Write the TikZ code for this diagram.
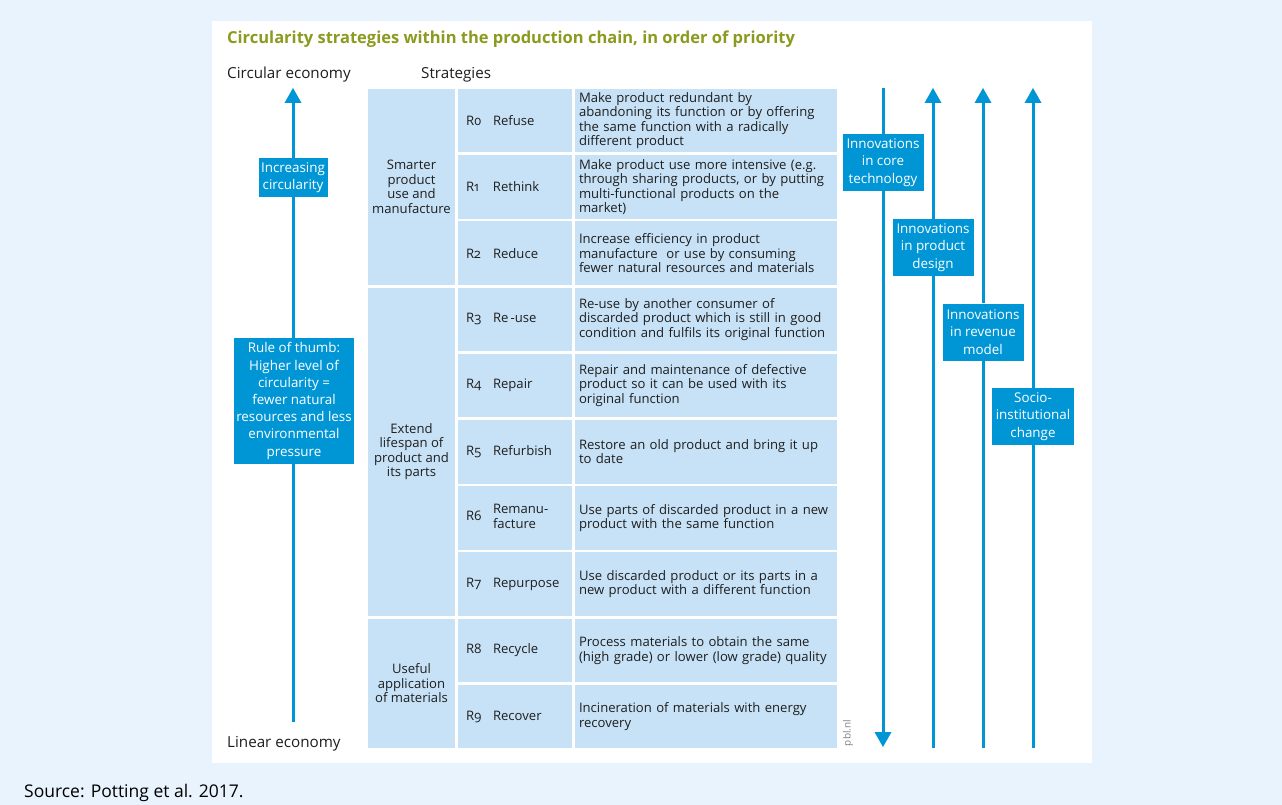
\documentclass[tikz,border=0pt]{standalone}
\usepackage{fontspec}
\setmainfont{Open Sans}[Numbers=OldStyle]
\definecolor{pblblue}{HTML}{0096D6}
\definecolor{cellblue}{HTML}{C7E2F6}
\definecolor{pageblue}{HTML}{E8F3FD}
\definecolor{titlegreen}{HTML}{8C9A1E}
\definecolor{inkgray}{HTML}{1E1E1E}

\begin{document}
\begin{tikzpicture}[x=1pt,y=-1pt]
\tikzstyle{every node}+=[inner sep=0pt, text=inkgray, font=\fontsize{13.1}{14.5}\selectfont]
\tikzstyle{label}=[font=\fontsize{15.2}{17}\selectfont, anchor=base west]
\tikzstyle{catcell}=[fill=cellblue, minimum width=87pt, align=center]
\tikzstyle{rcell}=[fill=cellblue, minimum width=114pt, minimum height=63.5pt, text width=98pt, inner xsep=8pt, align=left]
\tikzstyle{dcell}=[fill=cellblue, minimum width=262pt, minimum height=63.5pt, text width=254pt, inner xsep=4pt, align=left]
\tikzstyle{bluebox}=[fill=pblblue, text=white, align=center, font=\fontsize{13.4}{17.2}\selectfont]
\tikzstyle{innobox}=[bluebox, minimum width=81pt, minimum height=57pt]
\tikzstyle{flow}=[pblblue, line width=3pt]

\useasboundingbox (0,0) rectangle (1282,805);
\fill[pageblue] (0,0) rectangle (1282,805);
\fill[white] (212,21) rectangle (1092,763);

% headings
\node[anchor=base west, text=titlegreen, font=\fontsize{16.5}{19}\selectfont\bfseries] (title) at (227,44)
  {Circularity strategies within the production chain, in order of priority};
\node[label] (circ) at (227,79) {Circular economy};
\node[label] (strat) at (421,79) {Strategies};
\node[label] (lin) at (227,747) {Linear economy};
\node[anchor=base west, text=black, font=\fontsize{17.5}{20}\selectfont\addfontfeature{Numbers=Lining}] (src) at (24,797) {Source: Potting et al. 2017.};

% categories
\node[catcell, minimum height=195.9pt] (smarter) at (411.5,186.95) {Smarter\\product\\use and\\manufacture};
\node[catcell, minimum height=328.3pt] (extend) at (411.5,451.75) {Extend\\lifespan of\\product and\\its parts};
\node[catcell, minimum height=129.7pt] (useful) at (411.5,683.45) {Useful\\application\\of materials};

% strategies
\node[rcell] (r0) at (515,120.75) {\makebox[27pt][l]{R0}Refuse};
\node[rcell] (r1) at (515,186.95) {\makebox[27pt][l]{R1}Rethink};
\node[rcell] (r2) at (515,253.15) {\makebox[27pt][l]{R2}Reduce};
\node[rcell] (r3) at (515,319.35) {\makebox[27pt][l]{R3}Re\,-use};
\node[rcell] (r4) at (515,385.55) {\makebox[27pt][l]{R4}Repair};
\node[rcell] (r5) at (515,451.75) {\makebox[27pt][l]{R5}Refurbish};
\node[rcell] (r6) at (515,517.95) {\makebox[27pt][l]{R6}\begin{tabular}[c]{@{}l@{}}Remanu-\\facture\end{tabular}};
\node[rcell] (r7) at (515,584.15) {\makebox[27pt][l]{R7}Repurpose};
\node[rcell] (r8) at (515,650.35) {\makebox[27pt][l]{R8}Recycle};
\node[rcell] (r9) at (515,716.55) {\makebox[27pt][l]{R9}Recover};

% descriptions
\node[dcell] (d0) at (706,120.75) {Make product redundant by\\abandoning its function or by offering\\the same function with a radically\\different product};
\node[dcell] (d1) at (706,186.95) {Make product use more intensive (e.g.\\through sharing products, or by putting\\multi-functional products on the\\market)};
\node[dcell] (d2) at (706,253.15) {Increase efficiency in product\\manufacture\ \ or use by consuming\\fewer natural resources and materials};
\node[dcell] (d3) at (706,319.35) {Re-use by another consumer of\\discarded product which is still in good\\condition and fulfils its original function};
\node[dcell] (d4) at (706,385.55) {Repair and maintenance of defective\\product so it can be used with its\\original function};
\node[dcell] (d5) at (706,451.75) {Restore an old product and bring it up\\to date};
\node[dcell] (d6) at (706,517.95) {Use parts of discarded product in a new\\product with the same function};
\node[dcell] (d7) at (706,584.15) {Use discarded product or its parts in a\\new product with a different function};
\node[dcell] (d8) at (706,650.35) {Process materials to obtain the same\\(high grade) or lower (low grade) quality};
\node[dcell] (d9) at (706,716.55) {Incineration of materials with energy\\recovery};

\node[rotate=90, text=gray, font=\fontsize{10}{11}\selectfont] (pbl) at (848,733) {pbl.nl};

% left axis
\coordinate (ce) at (293,88);
\coordinate (le) at (293,722);
\node[bluebox, minimum width=69pt, minimum height=39pt] (inc) at (293,177.5) {Increasing\\circularity};
\node[bluebox, minimum width=120pt, minimum height=126pt] (rule) at (294,401) {Rule of thumb:\\Higher level of\\circularity =\\fewer natural\\resources and less\\environmental\\pressure};
\draw[flow, shorten >=8pt] (inc.north) -- (ce);
\draw[flow] (inc.south |- rule.north) -- (inc.south);
\draw[flow] (le) -- (le |- rule.south);
\fill[pblblue] (ce) -- ++(-8.5,15) -- ++(17,0) -- cycle;

% innovation arrows
\coordinate (core-top) at (883,88);
\coordinate (core-tip) at (883,747);
\coordinate (design-tip) at (933,88);
\coordinate (design-bot) at (933,748);
\coordinate (rev-tip) at (983,88);
\coordinate (rev-bot) at (983,748);
\coordinate (socio-tip) at (1033,88);
\coordinate (socio-bot) at (1033,748);
\node[innobox] (core) at (883,162.5) {Innovations\\in core\\technology};
\node[innobox] (design) at (933,247.5) {Innovations\\in product\\design};
\node[innobox] (rev) at (983,332) {Innovations\\in revenue\\model};
\node[innobox, minimum width=82pt] (socio) at (1033,416.5) {Socio-\\institutional\\change};
\draw[flow] (core-top) -- (core.north);
\draw[flow, shorten >=8pt] (core.south) -- (core-tip);
\fill[pblblue] (core-tip) -- ++(-8.5,-15) -- ++(17,0) -- cycle;
\draw[flow, shorten >=8pt] (design.north) -- (design-tip);
\draw[flow] (design-bot) -- (design.south);
\fill[pblblue] (design-tip) -- ++(-8.5,15) -- ++(17,0) -- cycle;
\draw[flow, shorten >=8pt] (rev.north) -- (rev-tip);
\draw[flow] (rev-bot) -- (rev.south);
\fill[pblblue] (rev-tip) -- ++(-8.5,15) -- ++(17,0) -- cycle;
\draw[flow, shorten >=8pt] (socio.north) -- (socio-tip);
\draw[flow] (socio-bot) -- (socio.south);
\fill[pblblue] (socio-tip) -- ++(-8.5,15) -- ++(17,0) -- cycle;
\end{tikzpicture}
\end{document}
